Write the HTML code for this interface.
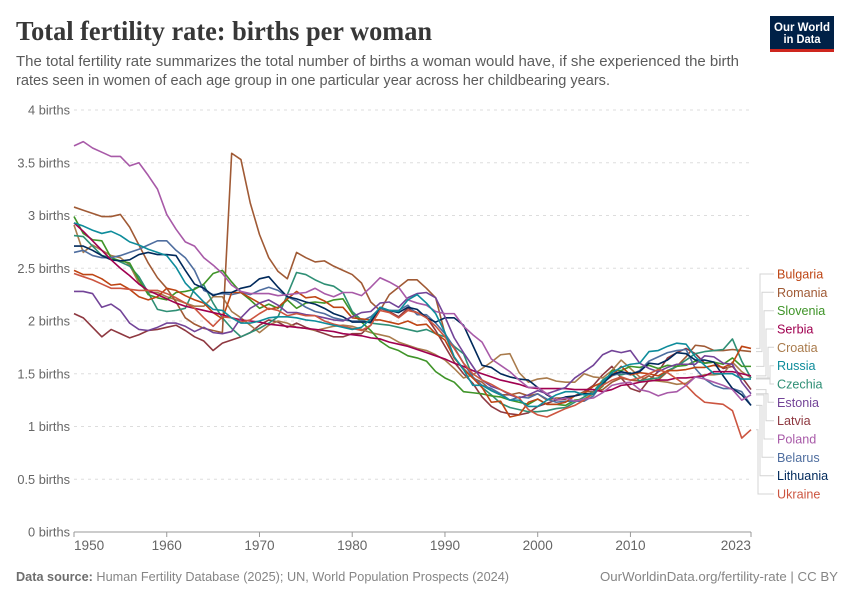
<!DOCTYPE html>
<html lang="en">
<head>
<meta charset="utf-8">
<title>Total fertility rate: births per woman</title>
<style>
html,body{margin:0;padding:0;background:#fff;}
svg{display:block;font-family:"Liberation Sans",sans-serif;}
</style>
</head>
<body>
<svg id="chart" xmlns="http://www.w3.org/2000/svg" width="850" height="600" viewBox="0 0 850 600">
  <text x="16" y="40" font-family="'Liberation Serif',serif" font-weight="bold" font-size="27" fill="#373737" textLength="416" lengthAdjust="spacingAndGlyphs">Total fertility rate: births per woman</text>
  <text x="16" y="66" font-size="14.5" fill="#5b5b5b" textLength="723" lengthAdjust="spacingAndGlyphs">The total fertility rate summarizes the total number of births a woman would have, if she experienced the birth</text>
  <text x="16" y="85" font-size="14.5" fill="#5b5b5b" textLength="594" lengthAdjust="spacingAndGlyphs">rates seen in women of each age group in one particular year across her childbearing years.</text>
  <g>
    <rect x="770" y="16" width="64" height="36" fill="#002147"/>
    <rect x="770" y="49" width="64" height="3" fill="#CE261E"/>
    <text x="802" y="31" font-size="12" font-weight="bold" fill="#fff" text-anchor="middle" textLength="56" lengthAdjust="spacingAndGlyphs">Our World</text>
    <text x="802" y="43" font-size="12" font-weight="bold" fill="#fff" text-anchor="middle" textLength="37" lengthAdjust="spacingAndGlyphs">in Data</text>
  </g>
  <g id="grid"></g>
  <g id="yLabels"></g>
  <g id="xAxis"></g>
  <g id="connectors"></g>
  <g id="lines"></g>
  <g id="legend"></g>
  <text x="16" y="581" font-size="13" fill="#858585" textLength="493" lengthAdjust="spacingAndGlyphs"><tspan font-weight="bold" fill="#6e6e6e">Data source:</tspan> Human Fertility Database (2025); UN, World Population Prospects (2024)</text>
  <text x="838" y="581" font-size="13" fill="#858585" text-anchor="end" textLength="238" lengthAdjust="spacingAndGlyphs">OurWorldinData.org/fertility-rate | CC BY</text>
</svg>
<script>
const startYear = 1950;
const endYear = 2023;
const yTicks = [0, 0.5, 1, 1.5, 2, 2.5, 3, 3.5, 4];
const yTickLabels = ["0 births", "0.5 births", "1 births", "1.5 births", "2 births", "2.5 births", "3 births", "3.5 births", "4 births"];
const xTicks = [1950, 1960, 1970, 1980, 1990, 2000, 2010, 2023];

const bulgaria = [
2.48,2.44,2.44,2.40,2.34,2.35,2.30,2.23,2.20,2.23,
2.31,2.29,2.24,2.20,2.17,2.08,2.02,2.27,2.27,2.22,
2.17,2.11,2.13,2.21,2.28,2.22,2.23,2.19,2.13,2.13,
2.03,2.02,2.01,2.01,1.99,1.97,2.00,1.96,1.97,1.88,
1.82,1.65,1.54,1.46,1.37,1.23,1.24,1.09,1.11,1.23,
1.26,1.21,1.21,1.23,1.29,1.31,1.38,1.42,1.48,1.57,
1.49,1.51,1.50,1.48,1.53,1.53,1.54,1.56,1.56,1.58,
1.56,1.60,1.76,1.74];
const romania = [
3.08,3.05,3.02,2.99,2.99,3.01,2.89,2.72,2.55,2.41,
2.31,2.18,2.03,1.97,1.93,1.91,1.89,3.59,3.53,3.12,
2.82,2.60,2.47,2.40,2.65,2.60,2.56,2.57,2.52,2.48,
2.44,2.36,2.18,2.10,2.25,2.32,2.39,2.39,2.31,2.22,
1.88,1.65,1.55,1.46,1.42,1.34,1.30,1.30,1.32,1.29,
1.31,1.25,1.27,1.27,1.29,1.33,1.33,1.35,1.42,1.46,
1.44,1.43,1.48,1.44,1.52,1.57,1.66,1.77,1.76,1.72,
1.72,1.73,1.72,1.71];
const slovenia = [
2.99,2.83,2.77,2.76,2.60,2.57,2.55,2.39,2.25,2.22,
2.20,2.27,2.28,2.30,2.35,2.45,2.48,2.37,2.27,2.20,
2.12,2.16,2.12,2.20,2.12,2.17,2.18,2.17,2.20,2.21,
2.07,1.99,1.91,1.81,1.75,1.72,1.67,1.65,1.62,1.52,
1.46,1.42,1.33,1.32,1.31,1.29,1.28,1.25,1.23,1.21,
1.26,1.21,1.21,1.20,1.25,1.26,1.31,1.38,1.53,1.53,
1.57,1.56,1.58,1.55,1.58,1.57,1.58,1.62,1.60,1.61,
1.59,1.65,1.57,1.57];
const serbia = [
2.93,2.85,2.76,2.67,2.58,2.50,2.43,2.35,2.29,2.25,
2.21,2.17,2.14,2.12,2.10,2.08,2.06,2.03,2.01,2.00,
1.99,1.97,1.96,1.95,1.94,1.93,1.92,1.91,1.90,1.88,
1.87,1.86,1.84,1.83,1.80,1.78,1.76,1.73,1.70,1.67,
1.64,1.60,1.57,1.53,1.50,1.47,1.44,1.42,1.40,1.37,
1.36,1.36,1.36,1.36,1.35,1.35,1.35,1.33,1.35,1.39,
1.40,1.42,1.43,1.44,1.44,1.46,1.46,1.47,1.48,1.52,
1.52,1.52,1.50,1.48];
const croatia = [
2.91,2.65,2.72,2.67,2.62,2.60,2.53,2.36,2.27,2.27,
2.23,2.20,2.17,2.14,2.14,2.23,2.23,2.09,2.03,1.96,
1.89,1.96,2.00,1.98,1.94,1.93,1.91,1.93,1.95,1.96,
1.95,1.92,1.89,1.87,1.85,1.80,1.77,1.74,1.72,1.68,
1.63,1.55,1.46,1.49,1.55,1.61,1.68,1.69,1.51,1.42,
1.45,1.46,1.43,1.42,1.42,1.50,1.47,1.46,1.53,1.63,
1.55,1.47,1.44,1.43,1.42,1.40,1.41,1.47,1.49,1.49,
1.50,1.61,1.52,1.46];
const russia = [
2.93,2.90,2.86,2.83,2.85,2.81,2.75,2.72,2.68,2.65,
2.62,2.51,2.36,2.27,2.18,2.11,2.10,2.03,1.98,1.98,
2.00,2.03,2.04,2.04,2.03,2.01,2.00,1.98,1.96,1.94,
1.92,1.94,2.02,2.13,2.10,2.09,2.20,2.25,2.17,2.07,
1.89,1.66,1.54,1.39,1.39,1.34,1.30,1.25,1.25,1.19,
1.19,1.25,1.30,1.33,1.33,1.30,1.31,1.42,1.51,1.56,
1.59,1.60,1.71,1.72,1.76,1.79,1.78,1.66,1.58,1.50,
1.50,1.50,1.45,1.45];
const czechia = [
2.81,2.80,2.71,2.62,2.60,2.56,2.52,2.42,2.27,2.11,
2.09,2.10,2.12,2.31,2.34,2.17,2.03,1.93,1.85,1.89,
1.93,1.98,2.04,2.25,2.46,2.44,2.39,2.35,2.33,2.27,
2.09,2.01,1.98,1.97,1.96,1.94,1.92,1.90,1.92,1.88,
1.85,1.76,1.69,1.47,1.37,1.30,1.22,1.18,1.16,1.14,
1.14,1.15,1.17,1.18,1.23,1.28,1.33,1.44,1.50,1.49,
1.51,1.43,1.45,1.46,1.53,1.57,1.63,1.69,1.71,1.72,
1.73,1.83,1.62,1.46];
const estonia = [
2.28,2.28,2.26,2.13,2.16,2.10,1.98,1.92,1.91,1.94,
1.98,1.98,1.95,1.90,1.94,1.89,1.88,1.90,2.03,2.12,
2.17,2.20,2.15,2.08,2.08,2.06,2.05,2.03,2.01,2.00,
2.04,2.08,2.09,2.17,2.18,2.13,2.22,2.26,2.27,2.22,
2.04,1.84,1.70,1.57,1.44,1.38,1.35,1.30,1.27,1.30,
1.34,1.31,1.34,1.37,1.46,1.52,1.58,1.68,1.72,1.70,
1.72,1.60,1.55,1.52,1.56,1.59,1.59,1.59,1.67,1.66,
1.60,1.59,1.42,1.31];
const latvia = [
2.07,2.03,1.94,1.85,1.92,1.88,1.84,1.87,1.91,1.92,
1.94,1.96,1.91,1.85,1.81,1.72,1.79,1.82,1.85,1.89,
1.96,2.01,1.99,1.94,1.98,1.94,1.91,1.88,1.85,1.85,
1.88,1.88,1.96,2.12,2.09,2.04,2.12,2.08,2.04,1.91,
1.76,1.61,1.50,1.41,1.28,1.19,1.14,1.12,1.11,1.13,
1.19,1.22,1.25,1.26,1.29,1.33,1.39,1.49,1.57,1.46,
1.36,1.33,1.44,1.52,1.65,1.70,1.74,1.69,1.60,1.61,
1.55,1.57,1.47,1.35];
const poland = [
3.66,3.70,3.64,3.60,3.56,3.56,3.47,3.50,3.38,3.25,
3.01,2.87,2.75,2.71,2.60,2.53,2.45,2.34,2.28,2.26,
2.26,2.26,2.24,2.25,2.26,2.27,2.31,2.26,2.23,2.27,
2.27,2.24,2.32,2.41,2.37,2.32,2.20,2.17,2.15,2.09,
2.07,2.07,1.95,1.87,1.80,1.64,1.58,1.52,1.44,1.37,
1.37,1.31,1.25,1.27,1.24,1.26,1.27,1.32,1.39,1.41,
1.42,1.35,1.33,1.29,1.32,1.33,1.39,1.47,1.45,1.42,
1.39,1.35,1.25,1.30];
const belarus = [
2.65,2.67,2.62,2.60,2.60,2.62,2.65,2.68,2.72,2.76,
2.76,2.67,2.60,2.48,2.29,2.25,2.26,2.25,2.27,2.25,
2.29,2.32,2.29,2.23,2.19,2.13,2.09,2.07,2.03,2.01,
2.00,2.00,2.04,2.12,2.10,2.10,2.15,2.06,2.06,1.98,
1.88,1.75,1.60,1.47,1.39,1.36,1.31,1.25,1.28,1.27,
1.31,1.26,1.23,1.24,1.24,1.24,1.29,1.41,1.48,1.51,
1.49,1.53,1.62,1.66,1.70,1.72,1.73,1.55,1.45,1.39,
1.36,1.36,1.33,1.20];
const lithuania = [
2.71,2.71,2.67,2.62,2.58,2.57,2.58,2.63,2.65,2.63,
2.63,2.62,2.48,2.35,2.31,2.24,2.27,2.27,2.31,2.33,
2.40,2.42,2.32,2.23,2.21,2.18,2.16,2.12,2.07,2.04,
1.99,1.99,1.99,2.13,2.10,2.08,2.13,2.11,2.03,1.99,
2.03,2.03,1.96,1.77,1.58,1.56,1.50,1.47,1.45,1.44,
1.37,1.30,1.25,1.28,1.29,1.31,1.31,1.41,1.49,1.52,
1.50,1.52,1.60,1.59,1.63,1.70,1.69,1.63,1.63,1.61,
1.48,1.36,1.30,1.20];
const ukraine = [
2.45,2.42,2.39,2.35,2.31,2.31,2.30,2.29,2.29,2.29,
2.26,2.22,2.17,2.12,2.03,1.95,2.04,2.03,1.99,2.01,
2.07,2.12,2.10,2.05,2.07,2.05,2.05,2.00,1.97,1.95,
1.93,1.91,1.96,2.10,2.08,2.03,2.10,2.08,2.03,1.95,
1.85,1.74,1.60,1.50,1.44,1.40,1.35,1.31,1.27,1.16,
1.11,1.09,1.13,1.17,1.20,1.25,1.32,1.39,1.44,1.47,
1.44,1.46,1.50,1.54,1.51,1.45,1.39,1.30,1.23,1.22,
1.21,1.15,0.89,0.97];

const seriesNames = ["Bulgaria","Romania","Slovenia","Serbia","Croatia","Russia","Czechia","Estonia","Latvia","Poland","Belarus","Lithuania","Ukraine"];
const seriesValues = [bulgaria,romania,slovenia,serbia,croatia,russia,czechia,estonia,latvia,poland,belarus,lithuania,ukraine];
const seriesColors = ["#BE4514","#A05A35","#3F9428","#A00050","#A97B4C","#0E8C9B","#2F8F75","#734498","#8E3840","#A85AA8","#4F6E9F","#00295B","#CC5540"];
const connectorOffsets = [10,12,14,16,18,20,20,18,16,14,12,10,8];
const drawOrder = [8,4,1,6,2,10,0,11,3,7,12,9,5];

const NS = "http://www.w3.org/2000/svg";
const plotLeft = 74, plotRight = 751, plotTop = 110, plotBottom = 532, yMax = 4;
function xScale(year) { return plotLeft + (year - startYear) * (plotRight - plotLeft) / (endYear - startYear); }
function yScale(v) { return plotBottom - v * (plotBottom - plotTop) / yMax; }
function el(tag, parent) { const e = document.createElementNS(NS, tag); parent.appendChild(e); return e; }

const grid = document.getElementById("grid");
const yLabels = document.getElementById("yLabels");
yTicks.forEach(function (t, i) {
  if (t !== 0) {
    const g = el("line", grid);
    
    
    g.setAttribute("x1", plotLeft);
    g.setAttribute("x2", plotRight);
    g.setAttribute("y1", yScale(t));
    g.setAttribute("y2", yScale(t));
    g.setAttribute("stroke", "#dddddd");
    g.setAttribute("stroke-dasharray", "3,4");
  }
  const lab = el("text", yLabels);
  
  
  lab.setAttribute("x", 70);
  lab.setAttribute("y", yScale(t) + 4.5);
  lab.setAttribute("text-anchor", "end");
  lab.setAttribute("font-size", "12.8");
  lab.setAttribute("fill", "#666666");
  lab.textContent = yTickLabels[i];
});

const xAxis = document.getElementById("xAxis");
const axisLine = el("line", xAxis);


axisLine.setAttribute("x1", plotLeft);
axisLine.setAttribute("x2", plotRight);
axisLine.setAttribute("y1", plotBottom);
axisLine.setAttribute("y2", plotBottom);
axisLine.setAttribute("stroke", "#999999");
xTicks.forEach(function (yr, i) {
  const tick = el("line", xAxis);
  
  
  tick.setAttribute("x1", xScale(yr));
  tick.setAttribute("x2", xScale(yr));
  tick.setAttribute("y1", plotBottom);
  tick.setAttribute("y2", plotBottom + 5);
  tick.setAttribute("stroke", "#999999");
  const lab = el("text", xAxis);
  
  
  lab.setAttribute("x", xScale(yr));
  lab.setAttribute("y", 550);
  lab.setAttribute("font-size", "13.6");
  lab.setAttribute("fill", "#666666");
  lab.setAttribute("text-anchor", i === 0 ? "start" : (i === xTicks.length - 1 ? "end" : "middle"));
  lab.textContent = yr;
});

const lines = document.getElementById("lines");
drawOrder.forEach(function (s) {
  const p = el("polyline", lines);
  
  
  p.setAttribute("points", seriesValues[s].map(function (v, i) {
    return xScale(startYear + i).toFixed(2) + "," + yScale(v).toFixed(2);
  }).join(" "));
  p.setAttribute("fill", "none");
  p.setAttribute("stroke", seriesColors[s]);
  p.setAttribute("stroke-width", "1.6");
  p.setAttribute("stroke-linejoin", "round");
});

const legendG = document.getElementById("legend");
const connG = document.getElementById("connectors");
seriesNames.forEach(function (name, i) {
  const values = seriesValues[i];
  const labelY = 274 + i * (220 / 12);
  const endY = yScale(values[values.length - 1]);
  const vx = 750 + connectorOffsets[i];
  const c = el("path", connG);
  
  
  c.setAttribute("d", "M756," + endY.toFixed(1) + "H" + vx + "V" + labelY.toFixed(1) + "H774");
  c.setAttribute("fill", "none");
  c.setAttribute("stroke", "#d4d4d4");
  c.setAttribute("stroke-width", "1");
  const t = el("text", legendG);
  
  
  t.setAttribute("x", 777);
  t.setAttribute("y", labelY + 4.5);
  t.setAttribute("font-size", "12.6");
  t.setAttribute("fill", seriesColors[i]);
  t.textContent = name;
});
</script>
</body>
</html>
